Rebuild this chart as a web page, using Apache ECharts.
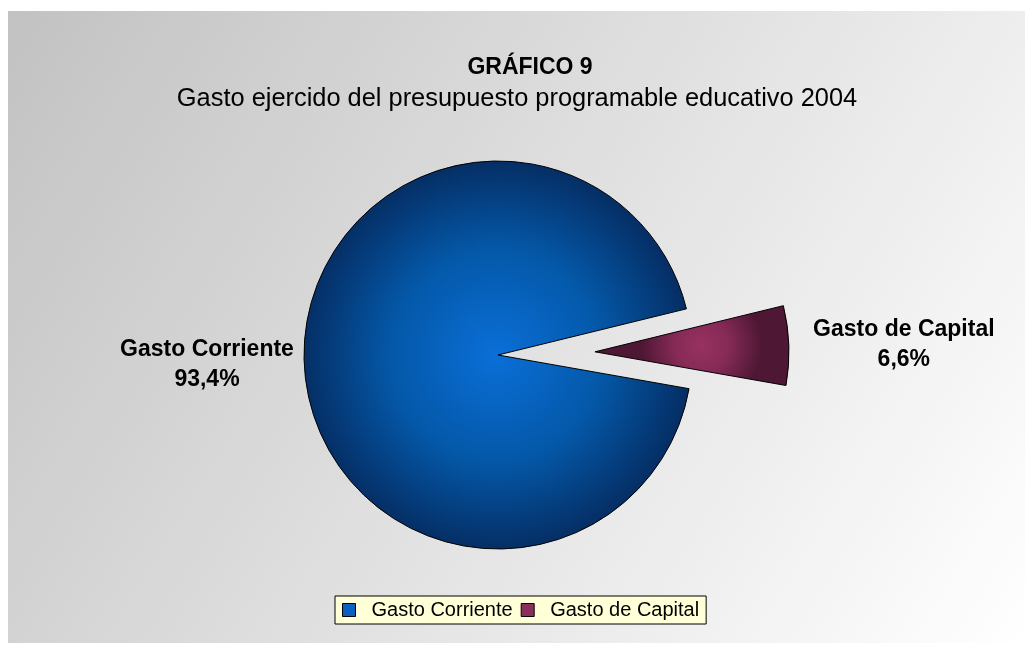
<!DOCTYPE html>
<html>
<head>
<meta charset="utf-8">
<script src="https://cdn.jsdelivr.net/npm/echarts@6/dist/echarts.min.js"></script>
<style>
html,body{margin:0;padding:0;background:#fff;}
#c{width:1033px;height:651px;}
</style>
</head>
<body>
<div id="c"></div>
<script>
var categories = ['Gasto Corriente', 'Gasto de Capital'];
var values = [93.4, 6.6];
var titleText = 'GRÁFICO 9';
var subtitleText = 'Gasto ejercido del presupuesto programable educativo 2004';

var FONT = '"Liberation Sans", Arial, sans-serif';
var grads = [
  new echarts.graphic.RadialGradient(0.5, 0.5, 0.5, [
    {offset: 0, color: '#0a6fd8'},
    {offset: 0.55, color: '#0458a8'},
    {offset: 1, color: '#052f66'}
  ]),
  new echarts.graphic.RadialGradient(0.55, 0.5, 0.75, [
    {offset: 0, color: '#98325f'},
    {offset: 0.45, color: '#852a56'},
    {offset: 1, color: '#4e1733'}
  ])
];
var legendColors = ['#0a5fc0', '#8a2f5c'];

var chart = echarts.init(document.getElementById('c'), null, {renderer: 'canvas'});
var data = categories.map(function (n, i) {
  return {
    name: n, value: values[i], selected: i === 1,
    itemStyle: {color: grads[i]}
  };
});
chart.setOption({
  animation: false,
  graphic: [{
    type: 'rect', z: -10, silent: true,
    shape: {x: 8, y: 11, width: 1017, height: 632},
    style: {
      fill: new echarts.graphic.LinearGradient(0, 0, 1, 1, [
        {offset: 0, color: '#c2c2c2'},
        {offset: 1, color: '#ffffff'}
      ])
    }
  }],
  title: [{
    text: titleText, left: 525, top: 51, textAlign: 'center',
    textStyle: {fontFamily: FONT, fontSize: 23, fontWeight: 'bold', color: '#000'}
  }, {
    text: subtitleText, left: 512, top: 81, textAlign: 'center',
    textStyle: {fontFamily: FONT, fontSize: 25.4, fontWeight: 'normal', color: '#000'}
  }],
  legend: {
    data: categories.map(function (n, i) {
      return {name: n, itemStyle: {color: legendColors[i], borderColor: '#000', borderWidth: 1}};
    }),
    left: 335, top: 596,
    orient: 'horizontal',
    icon: 'rect', itemWidth: 13, itemHeight: 13, itemGap: 8,
    backgroundColor: '#ffffd8', borderColor: '#000', borderWidth: 1,
    padding: [4, 7, 4, 7],
    selectedMode: false,
    textStyle: {fontFamily: FONT, fontSize: 20, color: '#000', padding: [0, 0, 0, 11]}
  },
  series: [{
    type: 'pie',
    center: [498, 355],
    radius: 194,
    startAngle: 350,
    clockwise: true,
    selectedMode: 'single',
    selectedOffset: 97,
    avoidLabelOverlap: false,
    itemStyle: {borderColor: '#000', borderWidth: 1},
    emphasis: {disabled: true},
    label: {
      show: true,
      position: 'outside',
      fontFamily: FONT, fontSize: 23, fontWeight: 'bold', color: '#000',
      lineHeight: 30, align: 'center',
      formatter: function (p) {
        return p.name + '\n' + p.value.toFixed(1).replace('.', ',') + '%';
      }
    },
    labelLine: {show: false, length: 15, length2: 95},
    labelLayout: function (p) {
      if (p.dataIndex === 0) return {x: 207, y: 365, align: 'center', verticalAlign: 'middle'};
      return {x: 904, y: 345, align: 'center', verticalAlign: 'middle'};
    },
    data: data
  }]
});
</script>
</body>
</html>
